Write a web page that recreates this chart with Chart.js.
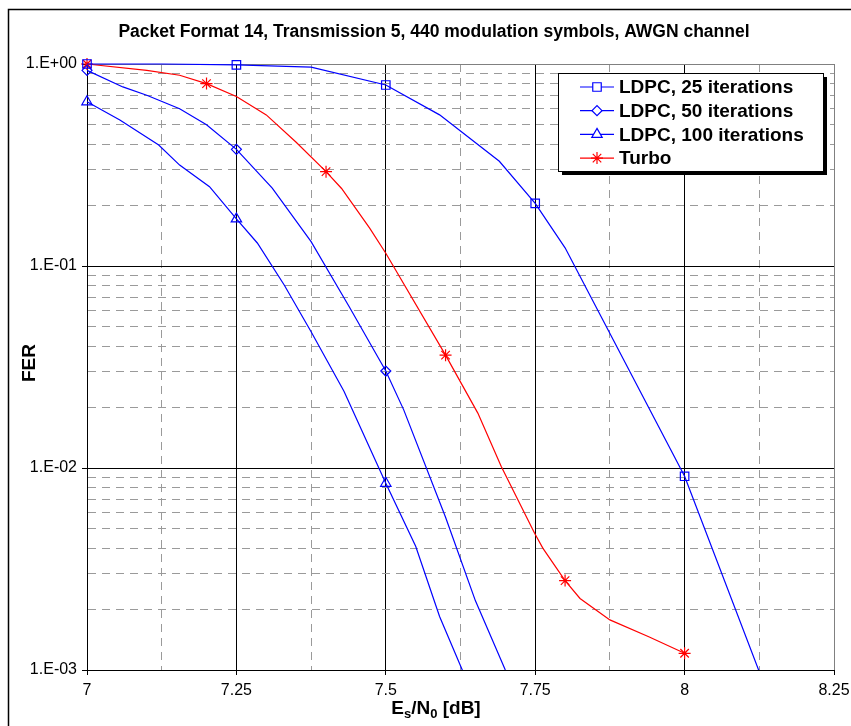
<!DOCTYPE html>
<html>
<head>
<meta charset="utf-8">
<script src="https://cdn.jsdelivr.net/npm/chart.js@4.4.0/dist/chart.umd.min.js"></script>
<style>
  html, body { margin: 0; padding: 0; background: #fff; }
</style>
</head>
<body>
<canvas id="myChart" width="851" height="726"></canvas>
<script>
// ---- data: Es/N0 in dB and frame error rate for each decoder ----
const ldpc25X = [7, 7.125, 7.25, 7.375, 7.5, 7.59, 7.69, 7.75, 7.8, 8, 8.125, 8.14];
const ldpc25Y = [1.0, 1.0, 0.99, 0.965, 0.787, 0.56, 0.33, 0.204, 0.123, 0.0091, 0.00098, 0.0008];
const ldpc25Marks = [7, 7.25, 7.5, 7.75, 8];

const ldpc50X = [7, 7.06, 7.1, 7.155, 7.2, 7.25, 7.31, 7.375, 7.44, 7.5, 7.53, 7.6, 7.65, 7.7, 7.72];
const ldpc50Y = [0.93, 0.77, 0.70, 0.60, 0.50, 0.378, 0.243, 0.132, 0.062, 0.0302, 0.0194, 0.0057, 0.0022, 0.001, 0.0008];
const ldpc50Marks = [7, 7.25, 7.5];

const ldpc100X = [7, 7.055, 7.12, 7.155, 7.205, 7.25, 7.285, 7.33, 7.375, 7.43, 7.5, 7.55, 7.59, 7.628, 7.64];
const ldpc100Y = [0.65, 0.528, 0.397, 0.316, 0.247, 0.171, 0.13, 0.0805, 0.0473, 0.024, 0.0084, 0.0041, 0.00184, 0.001, 0.0008];
const ldpc100Marks = [7, 7.25, 7.5];

const turboX = [7, 7.1, 7.155, 7.2, 7.25, 7.3, 7.35, 7.4, 7.426, 7.473, 7.5, 7.6, 7.654, 7.693, 7.749, 7.763, 7.8, 7.825, 7.875, 7.94, 8];
const turboY = [1.0, 0.93, 0.88, 0.80, 0.69, 0.56, 0.41, 0.293, 0.242, 0.154, 0.1156, 0.0362, 0.0187, 0.0102, 0.00475, 0.004, 0.00277, 0.00226, 0.00177, 0.00146, 0.00121];
const turboMarks = [7, 7.2, 7.4, 7.6, 7.8, 8];

const xTickValues = [7, 7.125, 7.25, 7.375, 7.5, 7.625, 7.75, 7.875, 8, 8.125, 8.25];
const yTickValues = [
  0.001, 0.002, 0.003, 0.004, 0.005, 0.006, 0.007, 0.008, 0.009,
  0.01, 0.02, 0.03, 0.04, 0.05, 0.06, 0.07, 0.08, 0.09,
  0.1, 0.2, 0.3, 0.4, 0.5, 0.6, 0.7, 0.8, 0.9,
  1
];

const FONT = "'Liberation Sans', Arial, sans-serif";

// ---- helpers ----
function pairs(xs, ys) {
  return xs.map((x, i) => ({ x: x, y: ys[i] }));
}

function isMajorX(v) {
  return Math.abs(v * 4 - Math.round(v * 4)) < 1e-6;
}

function isDecade(v) {
  let l = Math.log10(v);
  return Math.abs(l - Math.round(l)) < 1e-6;
}

function expLabel(v) {
  let e = Math.round(Math.log10(v));
  let a = Math.abs(e);
  return '1.E' + (e < 0 ? '-' : '+') + (a < 10 ? '0' : '') + a;
}

function makeSeries(label, xs, ys, marks, color, style, radius) {
  return {
    label: label,
    data: pairs(xs, ys),
    borderColor: color,
    backgroundColor: color,
    borderWidth: 1.2,
    tension: 0,
    pointStyle: style,
    pointBorderColor: color,
    pointBackgroundColor: 'rgba(0,0,0,0)',
    pointBorderWidth: 1.2,
    pointRadius: ctx => marks.includes(xs[ctx.dataIndex]) ? radius : 0,
    pointHoverRadius: ctx => marks.includes(xs[ctx.dataIndex]) ? radius : 0,
    markerSize: radius,
    clip: { left: 10, top: 10, right: 0, bottom: 0 }
  };
}

// ---- text, frame and legend drawn on top of the chart ----
const decorations = {
  id: 'decorations',
  afterDraw(chart) {
    const ctx = chart.ctx;
    ctx.save();

    // outer frame
    ctx.strokeStyle = '#000';
    ctx.lineWidth = 1.5;
    ctx.strokeRect(8.5, 9.5, 900, 900);

    // title
    ctx.fillStyle = '#000';
    ctx.textAlign = 'center';
    ctx.textBaseline = 'alphabetic';
    ctx.font = 'bold 17.5px ' + FONT;
    ctx.fillText('Packet Format 14, Transmission 5, 440 modulation symbols, AWGN channel', 434, 37);

    // y axis title
    ctx.save();
    ctx.translate(35, 363);
    ctx.rotate(-Math.PI / 2);
    ctx.font = 'bold 19px ' + FONT;
    ctx.fillText('FER', 0, 0);
    ctx.restore();

    // x axis title with subscripts
    const parts = [
      ['E', 19, 0], ['s', 13, 4], ['/N', 19, 0], ['0', 13, 4], [' [dB]', 19, 0]
    ];
    let total = 0;
    parts.forEach(p => {
      ctx.font = 'bold ' + p[1] + 'px ' + FONT;
      total += ctx.measureText(p[0]).width;
    });
    let tx = 436 - total / 2;
    ctx.textAlign = 'left';
    parts.forEach(p => {
      ctx.font = 'bold ' + p[1] + 'px ' + FONT;
      ctx.fillText(p[0], tx, 714 + p[2]);
      tx += ctx.measureText(p[0]).width;
    });

    // legend box with drop shadow
    const bx = 558, by = 73, bw = 265, bh = 98;
    ctx.fillStyle = '#000';
    ctx.fillRect(bx + 4, by + 4, bw, bh);
    ctx.fillStyle = '#fff';
    ctx.fillRect(bx, by, bw, bh);
    ctx.strokeStyle = '#000';
    ctx.lineWidth = 1;
    ctx.strokeRect(bx + 0.5, by + 0.5, bw, bh);

    ctx.font = 'bold 19px ' + FONT;
    ctx.textBaseline = 'middle';
    chart.data.datasets.forEach((ds, i) => {
      let ry = 87 + i * 23.7;
      ctx.strokeStyle = ds.borderColor;
      ctx.lineWidth = 1.2;
      ctx.beginPath();
      ctx.moveTo(580, ry);
      ctx.lineTo(614, ry);
      ctx.stroke();
      ctx.fillStyle = '#fff';
      Chart.helpers.drawPoint(ctx, {
        pointStyle: ds.pointStyle,
        radius: ds.markerSize,
        rotation: 0,
        borderWidth: 1.2
      }, 597, ry);
      ctx.fillStyle = '#000';
      ctx.fillText(ds.label, 619, ry + 1);
    });

    ctx.restore();
  }
};

const data = {
  datasets: [
    makeSeries('LDPC, 25 iterations', ldpc25X, ldpc25Y, ldpc25Marks, '#0000ff', 'rect', 6),
    makeSeries('LDPC, 50 iterations', ldpc50X, ldpc50Y, ldpc50Marks, '#0000ff', 'rectRot', 5),
    makeSeries('LDPC, 100 iterations', ldpc100X, ldpc100Y, ldpc100Marks, '#0000ff', 'triangle', 6),
    makeSeries('Turbo', turboX, turboY, turboMarks, '#ff0000', 'star', 6)
  ]
};

const config = {
  type: 'line',
  data: data,
  options: {
    responsive: false,
    devicePixelRatio: 1,
    animation: false,
    events: [],
    layout: {
      padding: { top: 64, right: 17, bottom: 0, left: 0 }
    },
    plugins: {
      legend: { display: false },
      title: { display: false },
      tooltip: { enabled: false }
    },
    scales: {
      x: {
        type: 'linear',
        min: 7,
        max: 8.25,
        afterBuildTicks: scale => {
          scale.ticks = xTickValues.map(v => ({ value: v }));
        },
        afterFit: scale => {
          scale.height = 56;
          scale.paddingLeft = 0;
          scale.paddingRight = 0;
        },
        ticks: {
          autoSkip: false,
          maxRotation: 0,
          padding: 6,
          color: '#000',
          font: { family: FONT, size: 16 },
          callback: v => isMajorX(v) ? String(v) : ''
        },
        grid: {
          lineWidth: 1,
          tickLength: 5,
          color: ctx => {
            let v = ctx.tick ? ctx.tick.value : 7;
            if (v === 8.25) return '#808080';
            return isMajorX(v) ? '#000' : '#9a9a9a';
          },
          tickColor: ctx => (ctx.tick && isMajorX(ctx.tick.value)) ? '#000' : 'rgba(0,0,0,0)'
        },
        border: {
          display: true,
          color: '#000',
          width: 1,
          dash: ctx => (ctx.tick && !isMajorX(ctx.tick.value)) ? [8, 6] : []
        }
      },
      y: {
        type: 'logarithmic',
        min: 0.001,
        max: 1,
        afterBuildTicks: scale => {
          scale.ticks = yTickValues.map(v => ({ value: v }));
        },
        afterFit: scale => {
          scale.width = 87;
          scale.paddingTop = 0;
          scale.paddingBottom = 0;
        },
        ticks: {
          autoSkip: false,
          padding: 5,
          color: '#000',
          font: { family: FONT, size: 16 },
          callback: v => isDecade(v) ? expLabel(v) : ''
        },
        grid: {
          lineWidth: 1,
          tickLength: 5,
          color: ctx => {
            let v = ctx.tick ? ctx.tick.value : 0.001;
            if (v === 1) return '#808080';
            return isDecade(v) ? '#000' : '#9a9a9a';
          },
          tickColor: ctx => (ctx.tick && isDecade(ctx.tick.value)) ? '#000' : 'rgba(0,0,0,0)'
        },
        border: {
          display: true,
          color: '#000',
          width: 1,
          dash: ctx => (ctx.tick && !isDecade(ctx.tick.value)) ? [8, 6] : []
        }
      }
    }
  },
  plugins: [decorations]
};

const myChart = new Chart(document.getElementById('myChart'), config);
</script>
</body>
</html>
